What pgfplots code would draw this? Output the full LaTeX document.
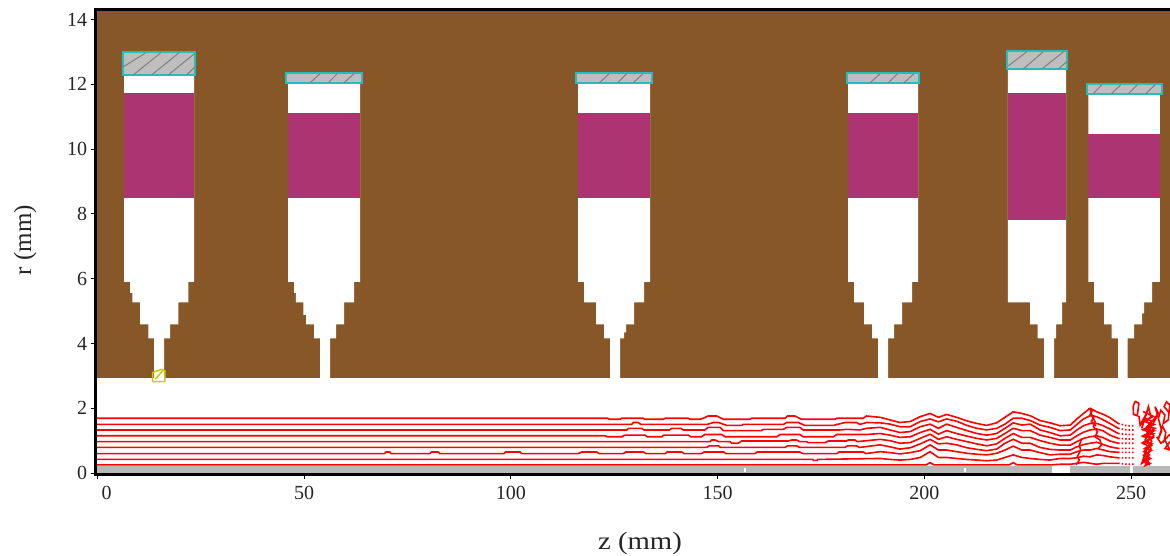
\documentclass[border=0pt]{standalone}
\usepackage{pgfplots}
\usepackage{fontspec}
\setmainfont{Liberation Serif}
\pgfplotsset{compat=1.18}
\definecolor{soil}{HTML}{875727}
\definecolor{plum}{HTML}{AD3472}
\definecolor{cyanedge}{HTML}{22BDBD}
\definecolor{hatchfill}{HTML}{BEBEBE}
\definecolor{hatchline}{HTML}{808080}
\definecolor{stripg}{HTML}{B8B8B8}
\definecolor{ymark}{HTML}{CCCC00}
\begin{document}
\begin{tikzpicture}
\useasboundingbox (0pt,0pt) rectangle (1170pt,555pt);
\begin{axis}[
  at={(95.7pt,81pt)},anchor=south west,
  scale only axis,width=1080.8pt,height=464pt,
  xmin=-0.44,xmax=261,ymin=-0.03,ymax=14.295,
  axis on top,
  unbounded coords=jump,
  axis line style={line width=3pt,black},
  tick pos=lower,tick align=outside,
  tick style={black,line width=1pt},
  major tick length=5pt,
  xtick={0,50,100,150,200,250},
  xticklabels={\hspace{18pt}0,50,100,150,200,250},
  ytick={0,2,4,6,8,10,12,14},
  /pgf/number format/assume math mode=true,
  tick label style={font=\fontsize{20}{22}\selectfont,text=black!85},
  x tick label style={yshift=-4pt},
  xlabel={\scalebox{1.15}[1]{z (mm)}},
  ylabel={r (mm)},
  label style={font=\fontsize{25}{28}\selectfont,text=black!85},
  xlabel style={at={(axis description cs:0.5036,-0.1487)},anchor=center},
  ylabel style={at={(axis description cs:-0.0654,0.504)},anchor=center},
]
% soil
\addplot[fill=soil,draw=none] coordinates {(-1,2.94) (262,2.94) (262,14.4) (-1,14.4)} --cycle;
% cavities
\addplot[fill=white,draw=none] coordinates {(6.41,12.3) (6.41,5.9) (7.86,5.9) (7.86,5.56) (8.42,5.56) (8.42,5.27) (10.28,5.27) (10.28,4.59) (12.29,4.59) (12.29,4.16) (13.67,4.16) (13.67,2.9) (16.09,2.9) (16.09,4.16) (17.54,4.16) (17.54,4.59) (19.54,4.59) (19.54,5.27) (21.96,5.27) (21.96,5.9) (23.34,5.9) (23.34,12.3)} --cycle;
\addplot[fill=white,draw=none] coordinates {(46.08,12.05) (46.08,5.9) (47.53,5.9) (47.53,5.56) (48,5.56) (48,5.27) (49.78,5.27) (49.78,4.88) (50.44,4.88) (50.44,4.59) (52.37,4.59) (52.37,4.16) (53.82,4.16) (53.82,2.9) (56.24,2.9) (56.24,4.16) (57.69,4.16) (57.69,4.59) (59.63,4.59) (59.63,5.27) (62.05,5.27) (62.05,5.9) (63.5,5.9) (63.5,12.05)} --cycle;
\addplot[fill=white,draw=none] coordinates {(116.23,12.05) (116.23,5.9) (117.68,5.9) (117.68,5.27) (120.58,5.27) (120.58,4.59) (122.52,4.59) (122.52,4.16) (123.97,4.16) (123.97,2.9) (126.39,2.9) (126.39,4.16) (127.36,4.16) (127.36,4.34) (127.84,4.34) (127.84,4.59) (129.77,4.59) (129.77,5.27) (132.19,5.27) (132.19,5.9) (133.64,5.9) (133.64,12.05)} --cycle;
\addplot[fill=white,draw=none] coordinates {(181.54,12.05) (181.54,5.9) (183,5.9) (183,5.27) (185.42,5.27) (185.42,4.59) (187.35,4.59) (187.35,4.16) (188.8,4.16) (188.8,2.9) (191.22,2.9) (191.22,4.16) (192.67,4.16) (192.67,4.59) (194.61,4.59) (194.61,5.27) (197.03,5.27) (197.03,5.9) (198.48,5.9) (198.48,12.05)} --cycle;
\addplot[fill=white,draw=none] coordinates {(220.18,12.47) (220.18,5.27) (225.57,5.27) (225.57,4.59) (227.43,4.59) (227.43,4.16) (228.96,4.16) (228.96,2.9) (231.37,2.9) (231.37,4.16) (231.86,4.16) (231.86,4.59) (233.31,4.59) (233.31,5.27) (234.28,5.27) (234.28,12.47)} --cycle;
\addplot[fill=white,draw=none] coordinates {(239.67,11.7) (239.67,5.9) (241.05,5.9) (241.05,5.27) (243.47,5.27) (243.47,4.59) (245.33,4.59) (245.33,4.16) (246.85,4.16) (246.85,2.9) (249.2,2.9) (249.2,4.16) (250.72,4.16) (250.72,4.59) (252.65,4.59) (252.65,4.93) (253.14,4.93) (253.14,5.27) (255.07,5.27) (255.07,5.9) (257,5.9) (257,11.7)} --cycle;
% purple sections
\addplot[fill=plum,draw=none] coordinates {(6.41,8.48) (23.34,8.48) (23.34,11.72) (6.41,11.72)} --cycle;
\addplot[fill=plum,draw=none] coordinates {(46.08,8.48) (63.5,8.48) (63.5,11.1) (46.08,11.1)} --cycle;
\addplot[fill=plum,draw=none] coordinates {(116.23,8.48) (133.64,8.48) (133.64,11.1) (116.23,11.1)} --cycle;
\addplot[fill=plum,draw=none] coordinates {(181.54,8.48) (198.48,8.48) (198.48,11.1) (181.54,11.1)} --cycle;
\addplot[fill=plum,draw=none] coordinates {(220.18,7.81) (234.28,7.81) (234.28,11.72) (220.18,11.72)} --cycle;
\addplot[fill=plum,draw=none] coordinates {(239.67,8.48) (257,8.48) (257,10.47) (239.67,10.47)} --cycle;
% hatched caps
\addplot[fill=hatchfill,draw=cyanedge,line width=2pt] coordinates {(6.17,12.28) (23.7,12.28) (23.7,13) (6.17,13)} --cycle;
\addplot[fill=hatchfill,draw=cyanedge,line width=2pt] coordinates {(45.7,12.05) (63.9,12.05) (63.9,12.34) (45.7,12.34)} --cycle;
\addplot[fill=hatchfill,draw=cyanedge,line width=2pt] coordinates {(115.75,12.05) (134.1,12.05) (134.1,12.34) (115.75,12.34)} --cycle;
\addplot[fill=hatchfill,draw=cyanedge,line width=2pt] coordinates {(181.3,12.05) (198.8,12.05) (198.8,12.34) (181.3,12.34)} --cycle;
\addplot[fill=hatchfill,draw=cyanedge,line width=2pt] coordinates {(219.9,12.47) (234.6,12.47) (234.6,13.02) (219.9,13.02)} --cycle;
\addplot[fill=hatchfill,draw=cyanedge,line width=2pt] coordinates {(239.3,11.7) (257.4,11.7) (257.4,12) (239.3,12)} --cycle;
\addplot[hatchline,line width=1pt] coordinates {
 (6.24,12.54) (11.49,12.96) (nan,nan) (8.67,12.29) (15.53,13) (nan,nan) (13.11,12.29) (19.96,13) (nan,nan) (17.13,12.29) (23.57,12.96) (nan,nan) (21.58,12.29) (23.5,12.54) (nan,nan)
 (51.42,12.05) (53.82,12.33) (nan,nan) (55.84,12.05) (58,12.33) (nan,nan) (59.63,12.05) (62.05,12.33) (nan,nan)
 (121.4,12.05) (123.8,12.33) (nan,nan) (125.8,12.05) (128,12.33) (nan,nan) (129.6,12.05) (132,12.33) (nan,nan)
 (186.9,12.05) (189.3,12.33) (nan,nan) (191.3,12.05) (193.5,12.33) (nan,nan) (195.1,12.05) (197.5,12.33) (nan,nan)
 (220.3,12.57) (224.7,13) (nan,nan) (223.9,12.47) (228.7,13) (nan,nan) (228.4,12.47) (233.6,13) (nan,nan) (232.4,12.47) (234.6,12.72) (nan,nan)
 (240.9,11.72) (242.9,11.98) (nan,nan) (245.3,11.72) (247.5,11.98) (nan,nan) (249.4,11.72) (251.5,11.98) (nan,nan) (253.6,11.72) (255.8,11.98)};
% yellow marker
\addplot[color=ymark,line width=1.5pt] coordinates {(13.3,2.82) (16.3,2.82) (16.3,3.15) (15.4,3.2) (13.3,3.1) (13.3,2.82) (nan,nan) (14,2.9) (15.7,3.15)};
% axis strip
\addplot[fill=stripg,draw=none] coordinates {(-1,-0.05) (262,-0.05) (262,0.22) (-1,0.22)} --cycle;
\addplot[fill=white,draw=none] coordinates {(231,-0.02) (235.2,-0.02) (235.2,0.22) (231,0.22)} --cycle;
\addplot[fill=white,draw=none] coordinates {(156.3,0.03) (156.9,0.03) (156.9,0.16) (156.3,0.16)} --cycle;
\addplot[fill=white,draw=none] coordinates {(209.5,0.03) (210.1,0.03) (210.1,0.16) (209.5,0.16)} --cycle;
\addplot[fill=white,draw=none] coordinates {(249.8,-0.02) (250.5,-0.02) (250.5,0.22) (249.8,0.22)} --cycle;
% stream lines
\addplot[red,line width=1.6pt] coordinates {(-1,1.69) (123.4,1.69) (123.8,1.66) (126.4,1.66) (126.8,1.69) (132,1.69) (132.4,1.66) (136.9,1.66) (137.3,1.69) (142.9,1.69) (143.3,1.66) (145.7,1.66) (146.5,1.69) (147.7,1.76) (149.8,1.76) (151.4,1.66) (157.8,1.66) (158.2,1.69) (166.3,1.69) (166.9,1.76) (168.7,1.76) (170.3,1.66) (178.4,1.66) (178.8,1.69) (185.2,1.69) (186,1.76) (189.3,1.72) (191.7,1.64) (194.1,1.56) (196.6,1.59) (199,1.74) (201.4,1.84) (203.4,1.72) (205.4,1.81) (207.8,1.72) (210.3,1.61) (212.7,1.53) (215.1,1.47) (217.5,1.55) (219.5,1.72) (221.5,1.89) (223.6,1.84) (225.6,1.77) (228,1.62) (230.4,1.55) (232.8,1.46) (235.3,1.48) (236.9,1.67) (238.5,1.84) (240.1,2) (241.7,1.89) (243.3,1.81) (244.9,1.71) (246.9,1.53)};
\addplot[red,line width=1.6pt] coordinates {(-1,1.5) (129.2,1.5) (129.6,1.56) (130.8,1.56) (131.4,1.5) (147.4,1.5) (149,1.56) (150.2,1.56) (152.2,1.47) (155.8,1.47) (156.2,1.5) (165.9,1.5) (166.7,1.56) (169.5,1.56) (171.1,1.47) (178,1.47) (180.8,1.56) (183.6,1.56) (184.4,1.5) (186,1.56) (189.3,1.55) (191.7,1.51) (194.1,1.43) (196.6,1.43) (199,1.59) (201.4,1.67) (203.4,1.58) (205.4,1.67) (207.8,1.6) (210.3,1.47) (212.7,1.38) (215.1,1.33) (217.5,1.38) (219.5,1.51) (221.5,1.69) (223.6,1.69) (225.6,1.62) (228,1.48) (230.4,1.41) (232.8,1.31) (235.3,1.33) (236.9,1.5) (238.5,1.67) (240.1,1.77) (241.7,1.74) (243.3,1.64) (244.9,1.53) (246.9,1.38)};
\addplot[red,line width=1.6pt] coordinates {(-1,1.33) (128,1.33) (128.4,1.38) (131.6,1.38) (132.2,1.33) (138.3,1.33) (138.9,1.38) (141.1,1.38) (141.7,1.33) (146.9,1.33) (147.7,1.41) (150.6,1.41) (151.4,1.31) (160.6,1.31) (161,1.35) (165.9,1.35) (166.7,1.41) (169.9,1.41) (170.7,1.33) (179.6,1.33) (181.2,1.35) (184.4,1.33) (186,1.38) (189.3,1.41) (191.7,1.33) (194.1,1.25) (196.6,1.28) (199,1.43) (201.4,1.51) (203.4,1.38) (205.4,1.51) (207.8,1.41) (210.3,1.31) (212.7,1.22) (215.1,1.17) (217.5,1.22) (219.5,1.38) (221.5,1.55) (223.6,1.48) (225.6,1.51) (228,1.33) (230.4,1.25) (232.8,1.15) (235.3,1.17) (236.9,1.33) (238.5,1.46) (240.1,1.53) (241.7,1.53) (243.3,1.46) (244.9,1.36) (246.9,1.22)};
\addplot[red,line width=1.6pt] coordinates {(-1,1.15) (122.8,1.15) (123.3,1.12) (126.8,1.12) (127.6,1.17) (132.4,1.17) (133,1.12) (136.5,1.12) (137,1.17) (142.9,1.17) (143.5,1.12) (146.1,1.12) (146.9,1.19) (151,1.19) (151.8,1.12) (164.3,1.12) (165.1,1.19) (169.9,1.19) (170.7,1.12) (178,1.12) (178.8,1.19) (186,1.19) (189.3,1.22) (191.7,1.17) (194.1,1.1) (196.6,1.12) (199,1.25) (201.4,1.35) (203.4,1.2) (205.4,1.31) (207.8,1.22) (210.3,1.14) (212.7,1.07) (215.1,1.02) (217.5,1.07) (219.5,1.22) (221.5,1.38) (223.6,1.31) (225.6,1.31) (228,1.17) (230.4,1.1) (232.8,1.02) (235.3,1.02) (236.9,1.15) (238.5,1.26) (240.1,1.33) (241.7,1.36) (243.3,1.3) (244.9,1.17) (246.9,1.07)};
\addplot[red,line width=1.6pt] coordinates {(-1,0.97) (148.2,0.97) (148.6,1.02) (149.4,1.02) (150.2,0.97) (153,0.97) (153.4,0.92) (155,0.92) (155.8,0.99) (167.1,0.99) (167.9,1.02) (169.1,1.02) (169.9,0.97) (171.5,0.97) (171.9,0.94) (176,0.94) (176.8,0.99) (181.2,0.99) (181.6,1.02) (183.2,1.02) (183.8,0.97) (189.3,1.04) (191.7,1) (194.1,0.92) (196.6,0.94) (199,1.07) (201.4,1.2) (203.4,1.04) (205.4,1.12) (207.8,1.04) (210.3,0.97) (212.7,0.9) (215.1,0.84) (217.5,0.9) (219.5,1.07) (221.5,1.22) (223.6,1.1) (225.6,1.1) (228,1) (230.4,0.92) (232.8,0.86) (235.3,0.86) (236.9,0.97) (238.5,1.07) (240.1,1.12) (241.7,1.15) (243.3,1.09) (244.9,0.99) (246.9,0.92)};
\addplot[red,line width=1.6pt] coordinates {(-1,0.79) (147.3,0.79) (148,0.84) (150.2,0.84) (150.7,0.79) (166.3,0.79) (166.9,0.84) (169.1,0.84) (169.9,0.79) (180.8,0.79) (181.4,0.84) (183.6,0.84) (184.3,0.79) (189.3,0.87) (191.7,0.81) (194.1,0.74) (196.6,0.78) (199,0.9) (201.4,1.04) (203.4,0.9) (205.4,0.92) (207.8,0.87) (210.3,0.78) (212.7,0.73) (215.1,0.69) (217.5,0.74) (219.5,0.92) (221.5,1.04) (223.6,0.92) (225.6,0.92) (228,0.79) (230.4,0.73) (232.8,0.71) (235.3,0.71) (236.9,0.81) (238.5,0.88) (240.1,0.92) (241.7,0.95) (243.3,0.88) (244.9,0.81) (246.9,0.76)};
\addplot[red,line width=1.6pt] coordinates {(-1,0.6) (69.4,0.6) (69.8,0.65) (70.7,0.65) (71,0.6) (80.4,0.6) (80.8,0.65) (82.4,0.65) (82.8,0.6) (98.3,0.6) (98.7,0.65) (102.2,0.65) (102.6,0.6) (116.3,0.6) (117.1,0.65) (120.7,0.65) (121.4,0.6) (127.2,0.6) (127.8,0.65) (132,0.65) (132.7,0.6) (137.3,0.6) (137.8,0.65) (141.3,0.65) (141.9,0.6) (146.1,0.6) (146.7,0.65) (151.4,0.65) (152,0.6) (159,0.6) (159.6,0.65) (169.9,0.65) (170.6,0.6) (178.8,0.6) (179.4,0.65) (185.2,0.65) (185.9,0.6) (189.3,0.66) (191.7,0.63) (194.1,0.59) (196.6,0.63) (199,0.69) (201.4,0.87) (203.4,0.71) (205.4,0.71) (207.8,0.66) (210.3,0.61) (212.7,0.58) (215.1,0.56) (217.5,0.61) (219.5,0.71) (221.5,0.83) (223.6,0.71) (225.6,0.71) (228,0.63) (230.4,0.56) (232.8,0.58) (235.3,0.58) (236.9,0.66) (238.5,0.71) (240.1,0.71) (241.7,0.76) (243.3,0.71) (244.9,0.66) (246.9,0.64)};
\addplot[red,line width=1.6pt] coordinates {(-1,0.42) (173,0.42) (173.2,0.39) (174,0.39) (174.2,0.42) (189.3,0.45) (191.7,0.42) (194.1,0.4) (196.6,0.42) (199,0.48) (201.4,0.66) (203.4,0.48) (205.4,0.48) (207.8,0.45) (210.3,0.42) (212.7,0.4) (215.1,0.38) (217.5,0.4) (219.5,0.48) (221.5,0.56) (223.6,0.48) (225.6,0.45) (228,0.42) (230.4,0.4) (232.8,0.45) (235.3,0.45) (236.9,0.47) (238.5,0.52) (240.1,0.5) (241.7,0.56) (243.3,0.54) (244.9,0.5) (246.9,0.47)};
\addplot[red,line width=1.6pt] coordinates {(-1,0.25) (200.4,0.25) (201.4,0.32) (202.4,0.25) (220.5,0.25) (221.5,0.32) (222.5,0.25) (230.4,0.25) (232.8,0.27) (235.3,0.27) (236.9,0.3) (238.5,0.33) (240.1,0.3) (241.7,0.27) (243.3,0.3) (244.9,0.3) (246.9,0.3)};
% dotted stretch
\addplot[red,line width=1.6pt,dash pattern=on 1.5pt off 2pt] coordinates {
 (246.9,1.53) (249,1.46) (251,1.46) (nan,nan) (246.9,1.38) (249,1.33) (251,1.33) (nan,nan) (246.9,1.22) (249,1.19) (251,1.19) (nan,nan)
 (246.9,1.07) (249,1.05) (251,1.05) (nan,nan) (246.9,0.92) (249,0.92) (251,0.92) (nan,nan) (246.9,0.76) (249,0.76) (251,0.76) (nan,nan)
 (246.9,0.64) (249,0.64) (251,0.64) (nan,nan) (246.9,0.47) (249,0.47) (251,0.47) (nan,nan) (246.9,0.3) (249,0.27) (251,0.27)};
% tangled parts
\addplot[red,line width=1.6pt] coordinates {(240.1,2) (240.5,1.79) (241.3,1.58) (240.9,1.43) (241.9,1.28) (241.3,1.12) (242.5,1.02) (242.8,0.86) (242.1,0.76)};
\addplot[red,line width=1.6pt] coordinates {(239.6,1.98) (240.7,1.95) (240.1,1.8) (241.1,1.75) (240.4,1.6) (241.5,1.45)};
\addplot[red,line width=1.6pt] coordinates {(238.1,1.07) (237.5,0.86) (237.8,0.71) (237,0.5) (237.5,0.4) (236.7,0.25)};
\addplot[red,line width=1.6pt] coordinates {(251,2.22) (250.5,2.05) (250.6,1.81) (251.5,1.77) (251.9,2.15) (251,2.22) (nan,nan) (251.9,1.77) (252.2,1.48) (253.1,1.69) (252.6,1.38) (253.6,1.79) (254.2,2.05) (254.8,1.74) (253.6,1.59) (255.2,1.48) (253,1.33) (255.4,1.22) (253.1,1.12) (255,1.07) (252.8,0.92) (254.6,0.81) (253.1,0.66) (254.4,0.56) (253,0.4) (254.6,0.3) (253.4,0.23) (254.2,0.45) (252.6,0.3) (253.8,0.76) (255,0.86) (253.4,1.02) (254.6,1.28) (255.8,1.38) (253.8,1.43) (255.4,1.64) (256.6,1.84) (255.8,2.05) (256.4,1.79) (255.4,1.53) (253.8,1.22) (255,0.97) (253.6,0.71) (254.4,0.4)};
\addplot[red,line width=1.6pt] coordinates {(252.9,1.9) (255.4,1.75) (253.1,1.6) (255.6,1.5) (253,1.35) (255.5,1.3) (252.9,1.15) (255.3,1.1) (253,0.95) (255,0.9) (253.2,0.75) (254.9,0.7) (253.1,0.55) (254.7,0.45) (253.2,0.35) (254.6,0.25)};
\addplot[red,line width=1.6pt] coordinates {(254,1.95) (253.3,1.7) (255,1.6) (254.2,1.4) (255.5,1.15) (254,1) (254.8,0.75) (253.8,0.5) (254.3,0.25)};
\addplot[red,line width=1.6pt] coordinates {(256.6,1.69) (257.2,1.94) (258.2,1.79) (257.8,1.53) (259,1.64) (259.4,2.1) (258.6,2.2) (258,2.05) (259.4,1.84) (nan,nan) (256.2,1.12) (257.2,0.92) (258.2,1.02) (259,0.81) (259.4,0.71) (258.2,0.76) (259.4,0.97)};
\addplot[red,line width=1.6pt] coordinates {(256,2) (256.8,1.6) (257.4,1.3) (256.6,1.05) (257.6,1.45) (258.4,1.25) (258,1) (259.4,1.2)};
\end{axis}
\end{tikzpicture}
\end{document}
